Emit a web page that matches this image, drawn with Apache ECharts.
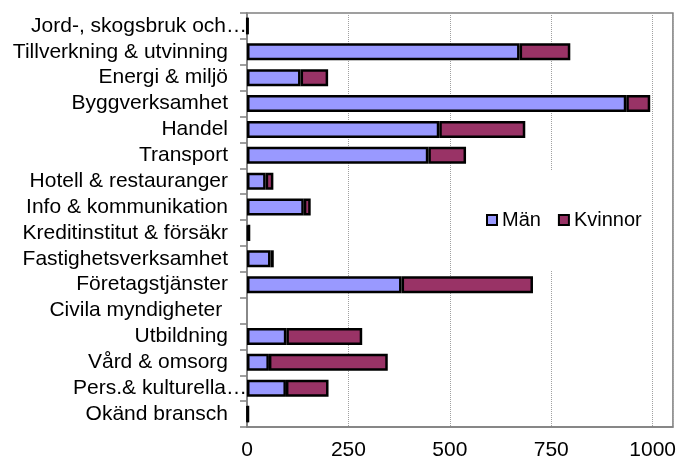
<!DOCTYPE html>
<html>
<head>
<meta charset="utf-8">
<script src="https://cdn.jsdelivr.net/npm/echarts@6/dist/echarts.min.js"></script>
<style>
  html, body { margin: 0; padding: 0; background: #fff; }
  #main { width: 679px; height: 462px; }
</style>
</head>
<body>
<div id="main"></div>
<script>
// branscher, uppifrån och ned
var branscher = [
    'Jord-, skogsbruk och…',
    'Tillverkning & utvinning',
    'Energi & miljö',
    'Byggverksamhet',
    'Handel',
    'Transport',
    'Hotell & restauranger',
    'Info & kommunikation',
    'Kreditinstitut & försäkr',
    'Fastighetsverksamhet',
    'Företagstjänster',
    'Civila myndigheter ',
    'Utbildning',
    'Vård & omsorg',
    'Pers.& kulturella…',
    'Okänd bransch'
];
var man     = [1, 672, 132, 935, 474, 447, 46, 140, 4, 58, 381, 0, 97, 54, 96, 2];
var kvinnor = [1, 125, 68, 59, 212, 93, 19, 17, 2, 8, 324, 0, 187, 293, 105, 1];
var xTicks = [0, 250, 500, 750, 1000];

var myChart = echarts.init(document.getElementById('main'));

// nollor ritas inte (annars syns en svart kantlinje)
function utanNollor(arr) {
    var a = [];
    for (var i = 0; i < arr.length; i++) {
        a.push(arr[i] === 0 ? null : arr[i]);
    }
    return a;
}

var font = 'Liberation Sans';

var option = {
    backgroundColor: '#fff',
    animation: false,
    textStyle: {fontFamily: font},
    legend: {
        data: ['Män', 'Kvinnor'],
        left: 478,
        top: 170,
        padding: [40, 8, 40, 8],
        backgroundColor: '#fff',
        itemGap: 17,
        itemWidth: 10,
        itemHeight: 10,
        icon: 'rect',
        textStyle: {fontSize: 20, color: '#000', fontFamily: font}
    },
    grid: {
        left: 247,
        top: 13,
        right: 5,
        bottom: 35,
        show: true,
        borderColor: '#808080',
        borderWidth: 1.5,
        containLabel: false
    },
    xAxis: {
        type: 'value',
        min: 0,
        max: 1050,
        interval: 250,
        axisLine: {show: true, lineStyle: {color: '#808080', width: 1.5}},
        axisTick: {show: false},
        splitLine: {show: true, lineStyle: {color: '#a0a0a0', type: 'dotted', width: 1}},
        axisLabel: {
            margin: 13,
            fontSize: 21,
            color: '#000',
            fontFamily: font,
            formatter: function (v) {
                return xTicks.indexOf(v) >= 0 ? String(v) : '';
            }
        }
    },
    yAxis: {
        type: 'category',
        data: branscher,
        inverse: true,
        axisLine: {show: true, lineStyle: {color: '#808080', width: 1.5}},
        axisTick: {show: true, length: 7, lineStyle: {color: '#808080', width: 1.5}},
        axisLabel: {
            margin: 0,
            fontSize: 21,
            color: '#000',
            fontFamily: font,
            interval: 0,
            formatter: function (v) {
                if (v.charAt(v.length - 1) === '…') {
                    return '{e|' + v + '}';
                }
                return '{n|' + v + '}';
            },
            rich: {
                n: {fontSize: 21, color: '#000', fontFamily: font, padding: [0, 19, 0, 0]},
                e: {fontSize: 21, color: '#000', fontFamily: font, padding: [0, 0, 0, 0]}
            }
        }
    },
    series: [
        {
            name: 'Män',
            type: 'bar',
            stack: 'total',
            barWidth: 17,
            data: utanNollor(man),
            itemStyle: {color: '#9999FF', borderColor: '#000', borderWidth: 2.5}
        },
        {
            name: 'Kvinnor',
            type: 'bar',
            stack: 'total',
            barWidth: 17,
            data: utanNollor(kvinnor),
            itemStyle: {color: '#993366', borderColor: '#000', borderWidth: 2.5}
        }
    ]
};

myChart.setOption(option);
</script>
</body>
</html>
